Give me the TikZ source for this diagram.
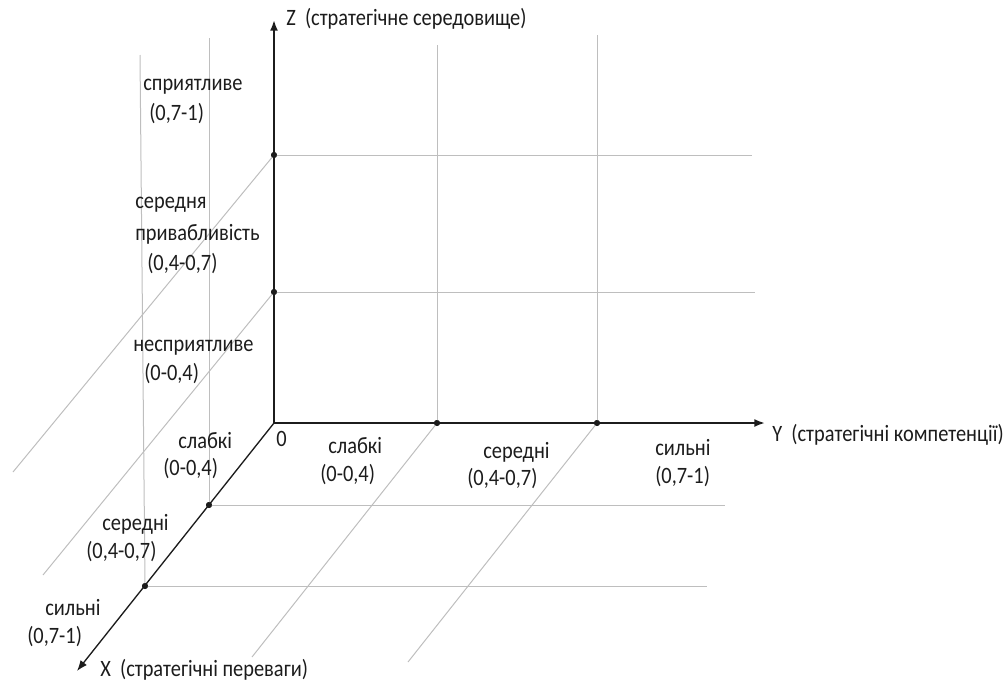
\documentclass[tikz,border=0pt]{standalone}
\usepackage{fontspec}
\usepackage{graphicx}
\setmainfont{Carlito}
\usetikzlibrary{arrows.meta}
\definecolor{gridgray}{RGB}{190,190,190}
\definecolor{inkc}{RGB}{28,28,28}
\newcommand\tallt[1]{\scalebox{1}[1.15]{#1}}
\begin{document}
\begin{tikzpicture}[x=0.75pt,y=-0.75pt,
  grid/.style={draw=gridgray,line width=0.75pt},
  axis/.style={draw=inkc,line width=1.5pt,-{Latex[length=8pt,width=6pt]}},
  xaxis/.style={draw=inkc,line width=1pt,-{Latex[length=8pt,width=6pt]}},
  lbl/.style={anchor=west,inner sep=0pt,text=inkc,font=\fontsize{15.3}{18}\selectfont,text height=1.5ex,text depth=.25ex},
  tickdot/.style={circle,fill=inkc,inner sep=0pt,minimum size=4.5pt}]
\useasboundingbox (0,0) rectangle (1006,686);
% axes end points
\coordinate (O) at (274,423);
\coordinate (Zt) at (274,20);
\coordinate (Yt) at (765,423);
\coordinate (Xt) at (77,671);
% ticks
\node[tickdot] (z1) at (274,292) {};
\node[tickdot] (z2) at (274,155) {};
\node[tickdot] (y1) at (437,423) {};
\node[tickdot] (y2) at (597,423) {};
\node[tickdot] (x1) at (209,505) {};
\node[tickdot] (x2) at (145,586) {};
% grid end points
\coordinate (z1e) at (755,292);
\coordinate (z2e) at (752,155);
\coordinate (y1u) at (437,45);
\coordinate (y2u) at (597,35);
\coordinate (x1e) at (725,505);
\coordinate (x2e) at (707,586);
\coordinate (y1d) at (252,657);
\coordinate (y2d) at (408,662);
\coordinate (x1u) at (209,38);
\coordinate (x2u) at (140,55);
\coordinate (z2d) at (13,472);
\coordinate (z1d) at (43,575);
% grid lines
\draw[grid] (z1.center) -- (z1e);
\draw[grid] (z2.center) -- (z2e);
\draw[grid] (y1.center) -- (y1u);
\draw[grid] (y2.center) -- (y2u);
\draw[grid] (x1.center) -- (x1e);
\draw[grid] (x2.center) -- (x2e);
\draw[grid] (y1.center) -- (y1d);
\draw[grid] (y2.center) -- (y2d);
\draw[grid] (x1.center) -- (x1u);
\draw[grid] (x2.center) -- (x2u);
\draw[grid] (z2.center) -- (z2d);
\draw[grid] (z1.center) -- (z1d);
% axes
\draw[axis] (O) -- (Zt);
\draw[axis] (O) -- (Yt);
\draw[xaxis] (O) -- (Xt);
% redraw ticks on top
\fill[inkc] (z1) circle (2.2pt) (z2) circle (2.2pt) (y1) circle (2.2pt) (y2) circle (2.2pt) (x1) circle (2.2pt) (x2) circle (2.2pt);
% axis labels
\node[lbl] (zl) at (286,22) {\tallt{Z\ \ (стратегічне середовище)}};
\node[lbl] (yl) at (772,438) {\tallt{Y\ \ (стратегічні компетенції)}};
\node[lbl] (xl) at (100,673) {\tallt{X\ \ (стратегічні переваги)}};
\node[lbl] (o) at (276,443) {\tallt{0}};
% Z labels
\node[lbl] (za1) at (143,87) {\tallt{сприятливе}};
\node[lbl] (za2) at (149,117) {\tallt{(0,7-1)}};
\node[lbl] (zb1) at (135,205) {\tallt{середня}};
\node[lbl] (zb2) at (135,237) {\tallt{привабливість}};
\node[lbl] (zb3) at (147,267) {\tallt{(0,4-0,7)}};
\node[lbl] (zc1) at (133,348) {\tallt{несприятливе}};
\node[lbl] (zc2) at (144,377) {\tallt{(0-0,4)}};
% X labels
\node[lbl] (xa1) at (178,445) {\tallt{слабкі}};
\node[lbl] (xa2) at (163,472) {\tallt{(0-0,4)}};
\node[lbl] (xb1) at (102,527) {\tallt{середні}};
\node[lbl] (xb2) at (86,555) {\tallt{(0,4-0,7)}};
\node[lbl] (xc1) at (45,612) {\tallt{сильні}};
\node[lbl] (xc2) at (27,640) {\tallt{(0,7-1)}};
% Y labels
\node[lbl] (ya1) at (328,450) {\tallt{слабкі}};
\node[lbl] (ya2) at (320,478) {\tallt{(0-0,4)}};
\node[lbl] (yb1) at (483,455) {\tallt{середні}};
\node[lbl] (yb2) at (467,482) {\tallt{(0,4-0,7)}};
\node[lbl] (yc1) at (655,452) {\tallt{сильні}};
\node[lbl] (yc2) at (655,480) {\tallt{(0,7-1)}};
\end{tikzpicture}
\end{document}
